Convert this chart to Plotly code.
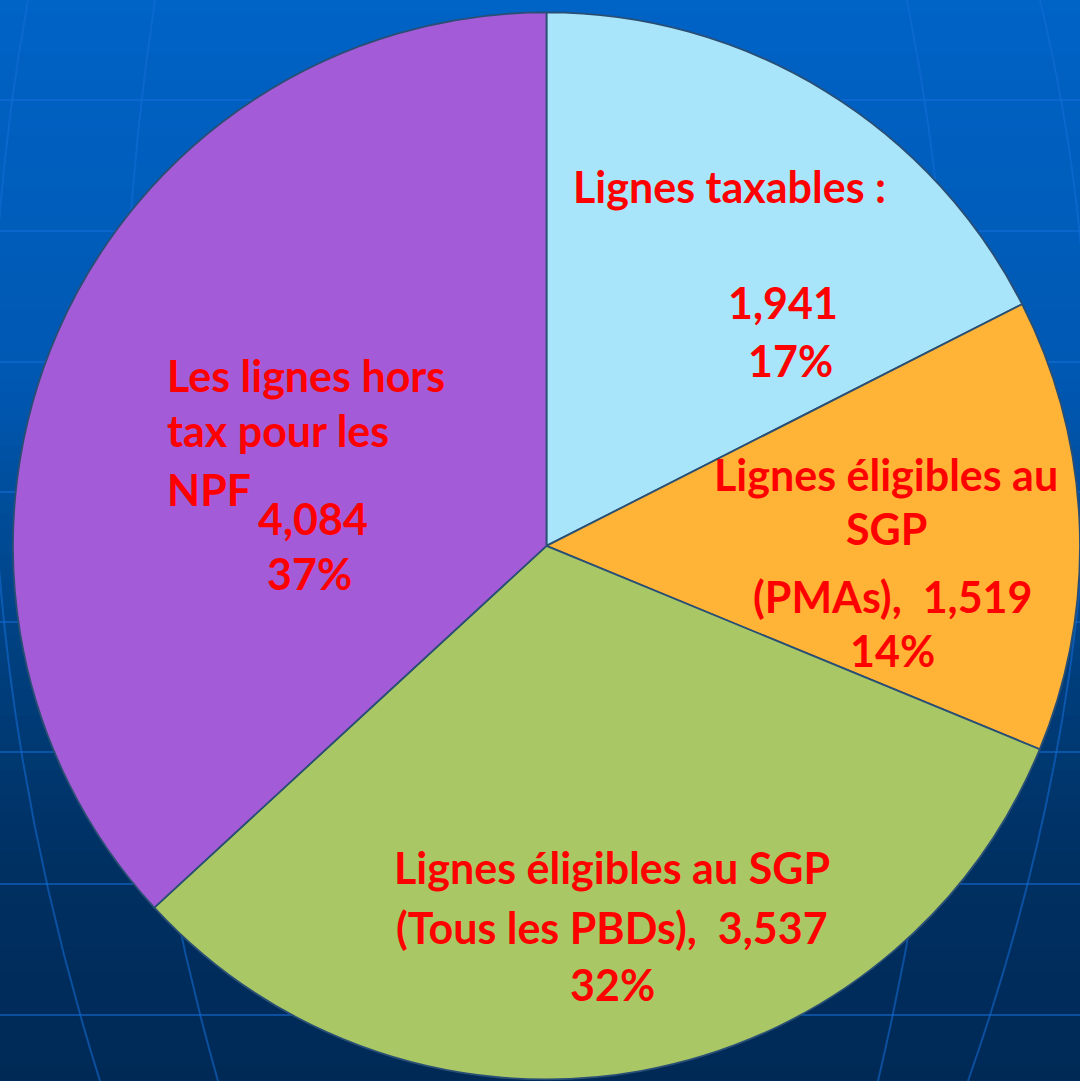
import plotly.graph_objects as go

# ---- data ----
categories = [
    "Lignes taxables",
    "Lignes éligibles au SGP (PMAs)",
    "Lignes éligibles au SGP (Tous les PBDs)",
    "Les lignes hors tax pour les NPF",
]
values = [1941, 1519, 3537, 4084]
pct_labels = ["17%", "14%", "32%", "37%"]
slice_colors = ["#A9E5FA", "#FFB437", "#A9C865", "#A45BD7"]


def fmt(v):
    return f"{v:,}"


# text lines of each label (value and percentage inserted from the arrays)
label_lines = [
    ["Lignes taxables :", fmt(values[0]), pct_labels[0]],
    ["Lignes éligibles au", "SGP", f"(PMAs),  {fmt(values[1])}", pct_labels[1]],
    ["Lignes éligibles au SGP", f"(Tous les PBDs),  {fmt(values[2])}", pct_labels[2]],
    ["Les lignes hors", "tax pour les", "NPF", fmt(values[3]), pct_labels[3]],
]
# pixel anchor (x, cap-centre y, xanchor) for every label line
label_pos = [
    [(729, 188, "center"), (783, 305, "center"), (790, 362, "center")],
    [(886, 477, "center"), (886, 531, "center"), (892, 598, "center"), (892, 652, "center")],
    [(612, 869, "center"), (612, 929, "center"), (612, 986, "center")],
    [(165, 377, "left"), (165, 432, "left"), (165, 491, "left"), (313, 521, "center"), (309, 575, "center")],
]

W, H = 1080, 1081
FS = 43
YOFF = 2  # text box centre offset from the cap centre

fig = go.Figure()
fig.add_trace(go.Pie(
    labels=categories,
    values=values,
    sort=False,
    direction="clockwise",
    rotation=0,
    marker=dict(colors=slice_colors, line=dict(color="#2A4F75", width=1.8)),
    textinfo="none",
    hoverinfo="label+value+percent",
    showlegend=False,
    domain=dict(x=[0.012, 1], y=[0, 0.99]),
))

# ---- background: vertical gradient + globe-like grid ----
def lerp(c1, c2, t):
    return tuple(int(round(a + (b - a) * t)) for a, b in zip(c1, c2))


stops = [(0.0, (0, 99, 198)), (0.35, (0, 88, 178)), (0.6, (0, 64, 128)),
         (0.8, (0, 48, 98)), (1.0, (0, 41, 86))]


def grad(t):
    for (t0, c0), (t1, c1) in zip(stops[:-1], stops[1:]):
        if t0 <= t <= t1:
            return lerp(c0, c1, (t - t0) / (t1 - t0))
    return stops[-1][1]


shapes = []
N = 80
for i in range(N):
    t = (i + 0.5) / N
    r, g, b = grad(t)
    y1 = 1 - i / N
    y0 = 1 - (i + 1) / N - 0.002
    shapes.append(dict(type="rect", xref="paper", yref="paper", x0=0, x1=1,
                       y0=max(y0, 0), y1=y1, fillcolor=f"rgb({r},{g},{b})",
                       line=dict(width=0), layer="below"))

grid_col = "rgba(20,110,215,0.55)"
for yp in [100, 231, 362, 492, 622, 752, 884, 1015]:
    yy = 1 - yp / H
    shapes.append(dict(type="line", xref="paper", yref="paper", x0=0, x1=1,
                       y0=yy, y1=yy, line=dict(color=grid_col, width=2), layer="below"))

meridians = [
    [(28, 0), (-70, 540), (100, 1081)],
    [(155, 0), (70, 560), (218, 1081)],
    [(907, 0), (1010, 520), (878, 1081)],
    [(1040, 0), (1165, 520), (968, 1081)],
]
for m in meridians:
    (x0, y0), (cx, cy), (x1, y1) = m
    path = f"M {x0},{y0} Q {cx},{cy} {x1},{y1}"
    shapes.append(dict(type="path", xref="x", yref="y", path=path,
                       line=dict(color=grid_col, width=2), layer="below"))

annotations = []
for lines, poss in zip(label_lines, label_pos):
    for txt, (px, py, xa) in zip(lines, poss):
        annotations.append(dict(
            text=txt, x=px / W, y=1 - (py - YOFF) / H, xref="paper", yref="paper",
            xanchor=xa, yanchor="middle", showarrow=False,
            font=dict(family="Lato", size=FS, color="#FF0000", weight="bold"),
        ))

fig.update_layout(
    width=W, height=H,
    margin=dict(l=0, r=0, t=0, b=0),
    paper_bgcolor="#00479A",
    plot_bgcolor="rgba(0,0,0,0)",
    shapes=shapes,
    annotations=annotations,
    xaxis=dict(range=[0, W], visible=False, fixedrange=True, domain=[0, 1]),
    yaxis=dict(range=[H, 0], visible=False, fixedrange=True, domain=[0, 1]),
)

fig.write_html(
    "out.html",
    config={"displayModeBar": False},
    post_script=(
        "document.body.style.margin='0';"
        "document.body.style.overflow='hidden';"
        "document.documentElement.style.overflow='hidden';"
    ),
)
